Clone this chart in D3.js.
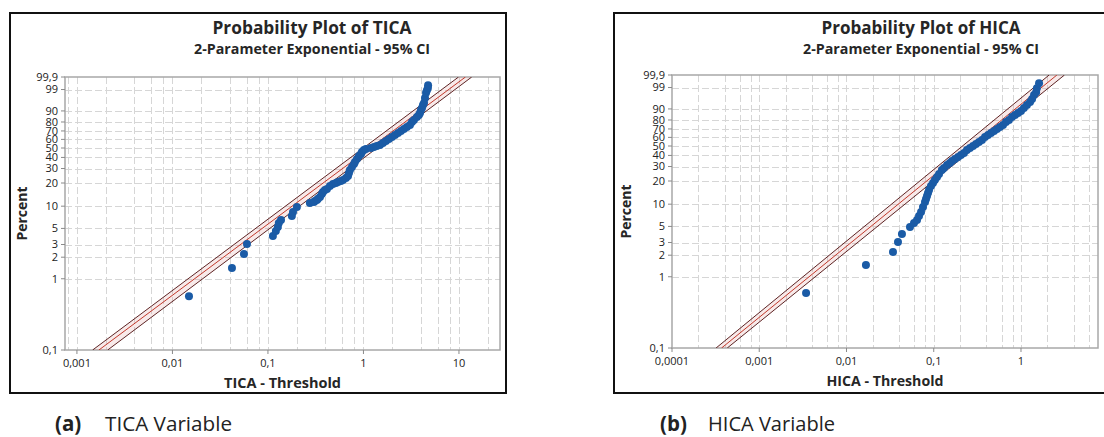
<!DOCTYPE html>
<html>
<head>
<meta charset="utf-8">
<script src="https://cdn.jsdelivr.net/npm/d3@7"></script>
<style>
  body { margin: 0; background: #fff; }
  svg { display: block; font-family: "Open Sans", "Noto Sans", sans-serif; }
  .grid line { stroke: #d6d6d6; stroke-dasharray: 7,3; shape-rendering: crispEdges; }
  .tick-label { font-size: 11px; fill: #222; }
  .caption { font-family: "Open Sans", sans-serif; font-size: 20.5px; fill: #222; }
</style>
</head>
<body>
<svg id="chart" width="1104" height="437"></svg>
<script>
'use strict';

// percent axis ticks (shared by both plots)
const pctTicks = [0.1, 1, 2, 3, 5, 10, 20, 30, 40, 50, 60, 70, 80, 90, 99, 99.9];
const pctTickLabels = ["0,1", "1", "2", "3", "5", "10", "20", "30", "40", "50", "60", "70", "80", "90", "99", "99,9"];

// TICA - threshold values and plotted percents
const ticaX = [0.0149, 0.042, 0.0561, 0.0603, 0.1127, 0.121, 0.127, 0.130, 0.137, 0.178, 0.183, 0.201,
    0.275, 0.303, 0.310, 0.326, 0.334, 0.351, 0.367, 0.377, 0.395, 0.415, 0.446, 0.480, 0.515, 0.541,
    0.581, 0.610, 0.656, 0.689, 0.705, 0.722, 0.758, 0.796, 0.815, 0.855, 0.897, 0.942, 0.964, 1.01,
    1.06, 1.20, 1.29, 1.38, 1.49, 1.60, 1.72, 1.85, 1.99, 2.14, 2.30, 2.47, 2.65, 2.85, 3.07, 3.22,
    3.38, 3.63, 3.81, 3.91, 4.00, 4.10, 4.20, 4.31, 4.41, 4.52, 4.62, 4.73, 4.75];
const ticaPct = [0.57, 1.41, 2.22, 3.05, 3.94, 4.61, 5.23, 5.93, 6.52, 7.38, 8.36, 9.76,
    11.0, 11.4, 11.7, 12.1, 12.5, 13.2, 14.5, 15.4, 16.3, 16.8, 18.3, 19.5, 20.0, 20.6,
    21.2, 21.8, 23.1, 24.4, 26.6, 28.8, 31.3, 33.8, 35.7, 38.5, 41.5, 43.5, 45.6, 47.8,
    48.9, 50.0, 51.2, 52.3, 53.5, 55.8, 58.1, 60.5, 62.9, 65.2, 67.6, 70.0, 72.3, 74.6, 76.8, 80.0,
    82.1, 84.9, 86.7, 88.4, 90.7, 92.1, 93.9, 94.9, 97.0, 98.4, 98.9, 99.2, 99.5];

// HICA - threshold values and plotted percents
const hicaX = [0.00344, 0.0167, 0.0341, 0.0389, 0.0432, 0.0534, 0.0594, 0.0643, 0.0678, 0.0715, 0.0753,
    0.0794, 0.0815, 0.0837, 0.0859, 0.0883, 0.0929, 0.098, 0.103, 0.109, 0.115, 0.124, 0.131, 0.142,
    0.153, 0.162, 0.175, 0.190, 0.205, 0.222, 0.240, 0.260, 0.282, 0.305, 0.330, 0.357, 0.387, 0.419,
    0.453, 0.491, 0.531, 0.574, 0.622, 0.673, 0.728, 0.789, 0.853, 0.925, 1.00, 1.08, 1.17, 1.27,
    1.34, 1.41, 1.49, 1.52, 1.61];
const hicaPct = [0.59, 1.46, 2.22, 3.05, 3.94, 4.91, 5.57, 6.12, 6.94, 7.86, 9.17,
    10.7, 11.7, 12.8, 14.0, 15.4, 17.3, 18.9, 20.6, 22.5, 24.4, 27.3, 28.8, 31.3,
    33.0, 34.8, 36.6, 38.5, 40.4, 42.5, 45.6, 47.8, 50.0, 52.3, 54.6, 57.0, 60.5, 62.9,
    65.2, 67.6, 70.0, 72.3, 74.6, 77.9, 80.0, 83.1, 84.9, 86.7, 88.4, 90.7, 92.7, 94.4,
    95.8, 97.3, 98.1, 98.9, 99.5];

// fitted line and 95% CI: x at 0,1 % and at 99,9 %
const fitPct = [0.1, 99.9];
const ticaFitX = [0.0017, 11.7];
const ticaLowX = [0.00146, 9.9];
const ticaHighX = [0.0021, 13.6];
const hicaFitX = [0.00037, 2.58];
const hicaLowX = [0.00032, 2.1];
const hicaHighX = [0.00043, 3.15];

const panels = [
    {
        id: "tica", box: [10, 13, 506, 393], plot: {left: 65, top: 77, right: 500, bottom: 350},
        xDomain: [0.00075, 26.9], title: "Probability Plot of TICA", xTitle: "TICA - Threshold",
        xs: ticaX, ps: ticaPct, fit: ticaFitX, low: ticaLowX, high: ticaHighX,
        titleX: 312, capTag: "(a)", capText: "TICA Variable", capX: 55, capTextX: 105
    },
    {
        id: "hica", box: [614, 13, 1110, 393], plot: {left: 672, top: 75, right: 1098, bottom: 348},
        xDomain: [0.0001, 7.63], title: "Probability Plot of HICA", xTitle: "HICA - Threshold",
        xs: hicaX, ps: hicaPct, fit: hicaFitX, low: hicaLowX, high: hicaHighX,
        titleX: 921, capTag: "(b)", capText: "HICA Variable", capX: 660, capTextX: 708
    }
];

let svg = d3.select("#chart");
let fmtX = d => String(d).replace(".", ",");

// exponential probability transform
function expQ(p) {
    return Math.log(-Math.log(1 - p / 100));
}

panels.forEach(drawPanel);

function drawPanel(cfg) {
    let m = cfg.plot;
    let g = svg.append("g").attr("class", "panel-" + cfg.id);

    let x = d3.scaleLog().domain(cfg.xDomain).range([m.left, m.right]);
    let yLin = d3.scaleLinear().domain([expQ(0.1), expQ(99.9)]).range([m.bottom, m.top]);
    let y = p => yLin(expQ(p));

    // outer frame
    g.append("rect")
        .attr("x", cfg.box[0]).attr("y", cfg.box[1])
        .attr("width", cfg.box[2] - cfg.box[0]).attr("height", cfg.box[3] - cfg.box[1])
        .attr("fill", "#fff").attr("stroke", "#111").attr("stroke-width", 2);

    // titles
    g.append("text")
        .attr("x", cfg.titleX).attr("y", 34)
        .attr("text-anchor", "middle")
        .attr("textLength", 199).attr("lengthAdjust", "spacingAndGlyphs")
        .style("font-size", "17px").style("font-weight", "bold").style("fill", "#262626")
        .text(cfg.title);
    g.append("text")
        .attr("x", cfg.titleX).attr("y", 54)
        .attr("text-anchor", "middle")
        .attr("textLength", 236).attr("lengthAdjust", "spacingAndGlyphs")
        .style("font-size", "14px").style("font-weight", "bold").style("fill", "#262626")
        .text("2-Parameter Exponential - 95% CI");

    // vertical grid: 1,2,4,6,8 within each decade
    let gridX = [];
    for (let e = -5; e <= 2; e++) {
        [1, 2, 4, 6, 8].forEach(k => {
            let v = k * Math.pow(10, e);
            if (v > cfg.xDomain[0] * 1.02 && v < cfg.xDomain[1]) gridX.push(v);
        });
    }
    let grid = g.append("g").attr("class", "grid");
    grid.selectAll("line.gx")
        .data(gridX)
        .enter().append("line")
        .attr("x1", d => Math.round(x(d)) + 0.5).attr("x2", d => Math.round(x(d)) + 0.5)
        .attr("y1", m.top).attr("y2", m.bottom);
    grid.selectAll("line.gy")
        .data(pctTicks.slice(1, -1))
        .enter().append("line")
        .attr("x1", m.left).attr("x2", m.right)
        .attr("y1", d => Math.round(y(d)) + 0.5).attr("y2", d => Math.round(y(d)) + 0.5);

    // plot frame
    g.append("rect")
        .attr("x", m.left).attr("y", m.top)
        .attr("width", m.right - m.left).attr("height", m.bottom - m.top)
        .attr("fill", "none").attr("stroke", "#a8a8a8").attr("stroke-width", 1.5);

    // y axis
    let yAxis = g.append("g");
    yAxis.selectAll("line")
        .data(pctTicks)
        .enter().append("line")
        .attr("x1", m.left - 4).attr("x2", m.left)
        .attr("y1", d => y(d)).attr("y2", d => y(d))
        .attr("stroke", "#8a8a8a");
    yAxis.selectAll("text")
        .data(pctTicks)
        .enter().append("text")
        .attr("class", "tick-label")
        .attr("x", m.left - 7)
        .attr("y", d => y(d))
        .attr("dy", "0.35em")
        .attr("text-anchor", "end")
        .text((d, i) => pctTickLabels[i]);

    // x axis
    let decades = [];
    for (let e = -5; e <= 2; e++) {
        let v = Math.pow(10, e);
        if (v >= cfg.xDomain[0] * 0.99 && v <= cfg.xDomain[1]) decades.push(v);
    }
    let xAxis = g.append("g");
    xAxis.selectAll("line")
        .data(decades)
        .enter().append("line")
        .attr("x1", d => x(d)).attr("x2", d => x(d))
        .attr("y1", m.bottom).attr("y2", m.bottom + 4)
        .attr("stroke", "#8a8a8a");
    xAxis.selectAll("text")
        .data(decades)
        .enter().append("text")
        .attr("class", "tick-label")
        .attr("x", d => x(d))
        .attr("y", m.bottom + 17)
        .attr("text-anchor", "middle")
        .text(d => fmtX(+d.toPrecision(1)));

    // axis titles
    g.append("text")
        .attr("x", (m.left + m.right) / 2).attr("y", m.bottom + 38)
        .attr("text-anchor", "middle")
        .attr("textLength", 117).attr("lengthAdjust", "spacingAndGlyphs")
        .style("font-size", "14px").style("font-weight", "bold").style("fill", "#262626")
        .text(cfg.xTitle);
    g.append("text")
        .attr("transform", "translate(" + (cfg.box[0] + 17) + "," + ((m.top + m.bottom) / 2) + ") rotate(-90)")
        .attr("text-anchor", "middle")
        .style("font-size", "14px").style("font-weight", "bold").style("fill", "#262626")
        .text("Percent");

    // clip to plot area
    let clipId = "clip-" + cfg.id;
    g.append("clipPath").attr("id", clipId)
        .append("rect")
        .attr("x", m.left).attr("y", m.top)
        .attr("width", m.right - m.left).attr("height", m.bottom - m.top);
    let inner = g.append("g").attr("clip-path", "url(#" + clipId + ")");

    // CI band and lines
    let band = [0, 1].map(i => ({p: fitPct[i], lo: cfg.low[i], hi: cfg.high[i]}));
    inner.append("path")
        .datum(band)
        .attr("fill", "rgba(215,140,140,0.18)")
        .attr("d", d3.area().x0(d => x(d.lo)).x1(d => x(d.hi)).y(d => y(d.p)));

    let line = d3.line().x(d => x(d[0])).y(d => y(d[1]));
    [[cfg.low, "#5e2424"], [cfg.high, "#5e2424"], [cfg.fit, "#c0392b"]].forEach(([xsFit, col]) => {
        inner.append("path")
            .datum(xsFit.map((v, i) => [v, fitPct[i]]))
            .attr("fill", "none")
            .attr("stroke", col)
            .attr("stroke-width", 1)
            .attr("d", line);
    });

    // points
    inner.selectAll("circle")
        .data(cfg.xs.map((v, i) => ({x: v, p: cfg.ps[i]})))
        .enter().append("circle")
        .attr("cx", d => x(d.x))
        .attr("cy", d => y(d.p))
        .attr("r", 4)
        .attr("fill", "#1a5ba6");

    // caption below the panel
    svg.append("text")
        .attr("class", "caption")
        .attr("x", cfg.capX).attr("y", 431)
        .style("font-weight", "bold")
        .text(cfg.capTag);
    svg.append("text")
        .attr("class", "caption")
        .attr("x", cfg.capTextX).attr("y", 431)
        .attr("textLength", 127).attr("lengthAdjust", "spacingAndGlyphs")
        .text(cfg.capText);
}
</script>
</body>
</html>
